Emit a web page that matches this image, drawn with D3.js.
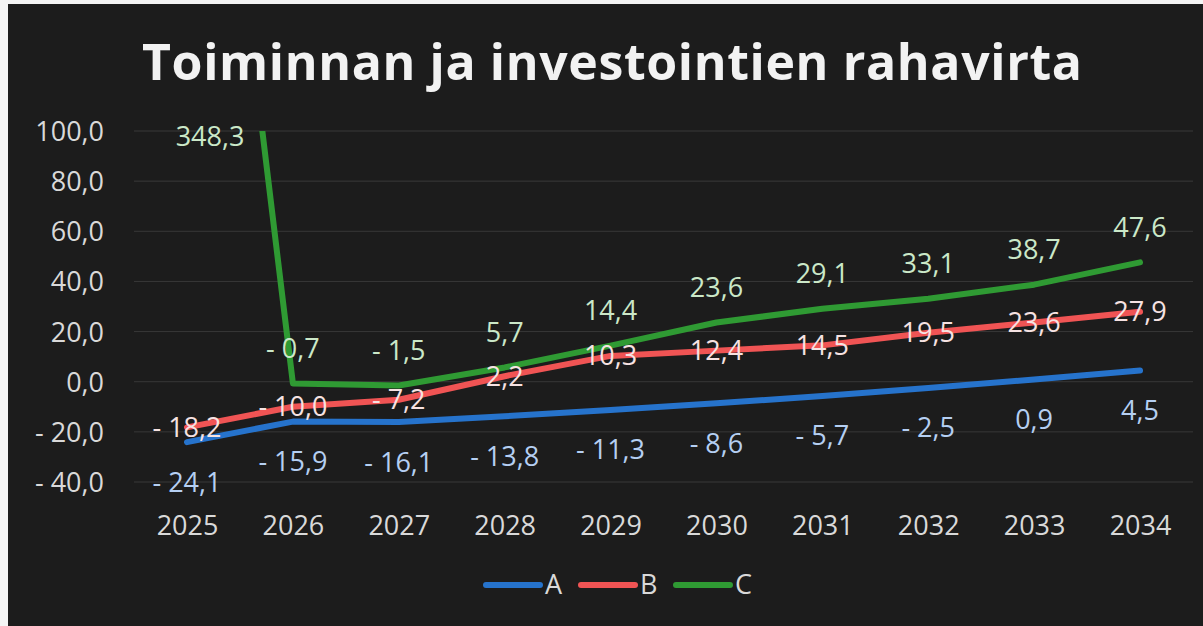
<!DOCTYPE html>
<html>
<head>
<meta charset="utf-8">
<script src="https://cdn.jsdelivr.net/npm/d3@7"></script>
<style>
  html, body { margin: 0; padding: 0; background: #f4f4f4; }
  svg { display: block; }
  text { font-family: "Open Sans", "Noto Sans", sans-serif; }
</style>
</head>
<body>
<div id="chart"></div>
<script>
// chart values
var years = [2025, 2026, 2027, 2028, 2029, 2030, 2031, 2032, 2033, 2034];
var seriesA = [-24.1, -15.9, -16.1, -13.8, -11.3, -8.6, -5.7, -2.5, 0.9, 4.5];
var seriesB = [-18.2, -10.0, -7.2, 2.2, 10.3, 12.4, 14.5, 19.5, 23.6, 27.9];
var seriesC = [348.3, -0.7, -1.5, 5.7, 14.4, 23.6, 29.1, 33.1, 38.7, 47.6];
var seriesNames = ["A", "B", "C"];
var yTicks = [-40, -20, 0, 20, 40, 60, 80, 100];
var title = "Toiminnan ja investointien rahavirta";

var svgWidth = 1203, svgHeight = 626;

var svg = d3.select("#chart")
  .append("svg")
  .attr("width", svgWidth)
  .attr("height", svgHeight);

// dark panel (photo has a light strip on top and left)
svg.append("rect")
  .attr("x", 8).attr("y", 4)
  .attr("width", svgWidth - 8).attr("height", svgHeight - 4)
  .attr("fill", "#1c1c1c");

var x = d3.scalePoint()
  .domain(years)
  .range([187, 1140]);

var y = d3.scaleLinear()
  .domain([-40, 100])
  .range([482, 131]);

function fmt(v) {
  var s = Math.abs(v).toFixed(1).replace(".", ",");
  return v < 0 ? "- " + s : s;
}

// title
svg.append("text")
  .attr("x", 142)
  .attr("y", 80)
  .attr("textLength", 940)
  .attr("lengthAdjust", "spacing")
  .attr("font-size", 50)
  .attr("font-weight", "bold")
  .attr("fill", "#f2f2f2")
  .text(title);

// gridlines
svg.append("g")
  .attr("class", "grid")
  .selectAll("line")
  .data(yTicks)
  .enter().append("line")
  .attr("x1", 134)
  .attr("x2", 1193)
  .attr("y1", function(d) { return y(d); })
  .attr("y2", function(d) { return y(d); })
  .attr("stroke", "#383838")
  .attr("stroke-width", 1);

// y axis labels
var yAxis = svg.append("g")
  .attr("class", "y-axis")
  .attr("transform", "translate(104,0)")
  .call(d3.axisLeft(y).tickValues(yTicks).tickSize(0).tickPadding(0).tickFormat(fmt));
yAxis.select(".domain").remove();
yAxis.selectAll("text")
  .attr("font-size", 27)
  .attr("font-family", "Open Sans")
  .attr("fill", "#d9d9d9")
  .attr("dy", "0.35em");

// x axis labels
var xAxis = svg.append("g")
  .attr("class", "x-axis")
  .attr("transform", "translate(0,512)")
  .call(d3.axisBottom(x).tickSize(0).tickPadding(0));
xAxis.select(".domain").remove();
xAxis.selectAll("text")
  .attr("font-size", 27)
  .attr("font-family", "Open Sans")
  .attr("fill", "#d9d9d9")
  .attr("dy", "0.85em");

// clip to the plot area
svg.append("clipPath")
  .attr("id", "plotClip")
  .append("rect")
  .attr("x", 100)
  .attr("y", y(100))
  .attr("width", 1103)
  .attr("height", y(-40) - y(100) + 20);

var series = [
  { name: "A", values: seriesA, color: "#2673cc", label: "#b5cff2", pos: "below" },
  { name: "B", values: seriesB, color: "#f05454", label: "#f6e2e2", pos: "center" },
  { name: "C", values: seriesC, color: "#2f9a33", label: "#cbe8c8", pos: "above" }
];

var line = d3.line()
  .x(function(d, i) { return x(years[i]); })
  .y(function(d) { return y(d); });

var lines = svg.append("g")
  .attr("class", "lines")
  .attr("clip-path", "url(#plotClip)");

lines.selectAll("path")
  .data(series)
  .enter().append("path")
  .attr("d", function(d) { return line(d.values); })
  .attr("fill", "none")
  .attr("stroke", function(d) { return d.color; })
  .attr("stroke-width", 6)
  .attr("stroke-linejoin", "round")
  .attr("stroke-linecap", "round");

// data labels
var labels = svg.append("g").attr("class", "labels");
series.forEach(function(s) {
  labels.append("g")
    .selectAll("text")
    .data(s.values)
    .enter().append("text")
    .attr("x", function(d, i) {
      // value above axis max: label moves beside the clipped line
      return d > 100 ? x(years[i]) + 23 : x(years[i]);
    })
    .attr("y", function(d) {
      var yy = y(Math.min(d, 100));
      if (d > 100) return y(100) + 6;
      if (s.pos === "below") return yy + 40;
      if (s.pos === "above") return yy - 35;
      return yy;
    })
    .attr("dy", "0.35em")
    .attr("text-anchor", "middle")
    .attr("font-size", 27)
    .attr("fill", s.label)
    .text(fmt);
});

// legend
var legend = svg.append("g")
  .attr("class", "legend")
  .attr("transform", "translate(483,585)");

var item = legend.selectAll("g")
  .data(series)
  .enter().append("g")
  .attr("transform", function(d, i) { return "translate(" + (i * 95) + ",0)"; });

item.append("line")
  .attr("x1", 3).attr("x2", 57)
  .attr("y1", 0).attr("y2", 0)
  .attr("stroke", function(d) { return d.color; })
  .attr("stroke-width", 6)
  .attr("stroke-linecap", "round");

item.append("text")
  .attr("x", 62)
  .attr("y", 0)
  .attr("dy", "0.35em")
  .attr("font-size", 27)
  .attr("fill", "#d9d9d9")
  .text(function(d) { return d.name; });
</script>
</body>
</html>
